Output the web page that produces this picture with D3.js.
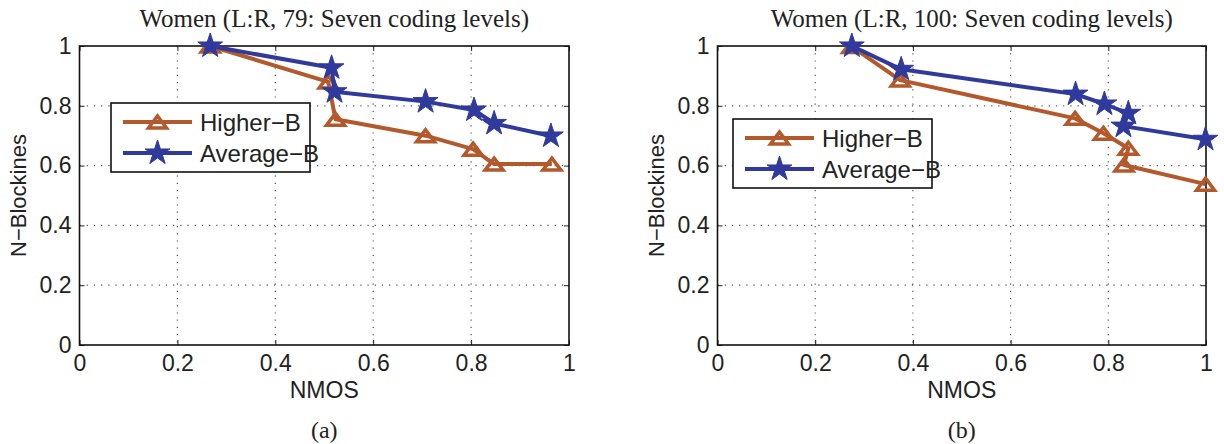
<!DOCTYPE html>
<html>
<head>
<meta charset="utf-8">
<script src="https://cdn.jsdelivr.net/npm/d3@7"></script>
<style>
  body { margin: 0; background: #fff; }
  svg { display: block; }
  .tick text { font-family: "Liberation Sans", Arial, sans-serif; font-size: 23px; fill: #222; }
</style>
</head>
<body>
<svg id="chart" width="1224" height="444"></svg>
<script>
// values
var xTicks = [0, 0.2, 0.4, 0.6, 0.8, 1]
var yTicks = [0, 0.2, 0.4, 0.6, 0.8, 1]
var tickLabels = ['0', '0.2', '0.4', '0.6', '0.8', '1']
var seriesNames = ['Higher\u2212B', 'Average\u2212B']

var higherA_x = [0.267, 0.508, 0.523, 0.707, 0.804, 0.847, 0.965]
var higherA_y = [1.0, 0.88, 0.755, 0.70, 0.655, 0.605, 0.605]
var averageA_x = [0.267, 0.515, 0.521, 0.707, 0.806, 0.847, 0.963]
var averageA_y = [1.0, 0.927, 0.847, 0.814, 0.786, 0.741, 0.699]

var higherB_x = [0.275, 0.374, 0.732, 0.790, 0.841, 0.832, 0.999]
var higherB_y = [0.998, 0.886, 0.758, 0.708, 0.658, 0.602, 0.538]
var averageB_x = [0.275, 0.376, 0.733, 0.792, 0.841, 0.831, 0.999]
var averageB_y = [1.0, 0.922, 0.839, 0.806, 0.775, 0.732, 0.688]

var colors = ['#b3592c', '#2f3a9c']

var panels = [
  { title: 'Women (L:R, 79: Seven coding levels)', caption: '(a)', left: 79.5, right: 569,
    series: [[higherA_x, higherA_y], [averageA_x, averageA_y]], legend: [111, 103] },
  { title: 'Women (L:R, 100: Seven coding levels)', caption: '(b)', left: 717.5, right: 1206,
    series: [[higherB_x, higherB_y], [averageB_x, averageB_y]], legend: [733, 119] }
]

var plotTop = 46, plotBottom = 345
var svg = d3.select('#chart')

function trianglePath(w, h) {
  var p = d3.path()
  p.moveTo(0, -h / 2)
  p.lineTo(w / 2, h / 2)
  p.lineTo(-w / 2, h / 2)
  p.closePath()
  return p.toString()
}
var star = d3.symbol().type(d3.symbolStar).size(190)()
var tri = trianglePath(18, 12)

function drawMarker(g, i, cx, cy) {
  if (i === 0) {
    g.append('path').attr('d', tri)
      .attr('transform', 'translate(' + cx + ',' + cy + ')')
      .attr('fill', 'none').attr('stroke', colors[0]).attr('stroke-width', 3.5)
      .attr('stroke-linejoin', 'miter')
  } else {
    g.append('path').attr('d', star)
      .attr('transform', 'translate(' + cx + ',' + cy + ')')
      .attr('fill', colors[1]).attr('stroke', colors[1]).attr('stroke-width', 1)
  }
}

panels.forEach(function(p) {
  var x = d3.scaleLinear().domain([0, 1]).range([p.left, p.right])
  var y = d3.scaleLinear().domain([0, 1]).range([plotBottom, plotTop])
  var g = svg.append('g')

  // dotted grid
  g.append('g').selectAll('line').data(xTicks.slice(1, -1)).enter().append('line')
    .attr('x1', function(d) { return x(d) }).attr('x2', function(d) { return x(d) })
    .attr('y1', plotTop).attr('y2', plotBottom)
    .attr('stroke', '#555').attr('stroke-width', 1.2).attr('stroke-dasharray', '1.2,6')
  g.append('g').selectAll('line').data(yTicks.slice(1, -1)).enter().append('line')
    .attr('y1', function(d) { return y(d) }).attr('y2', function(d) { return y(d) })
    .attr('x1', p.left).attr('x2', p.right)
    .attr('stroke', '#555').attr('stroke-width', 1.2).attr('stroke-dasharray', '1.2,6')

  var fmt = function(d, i) { return tickLabels[i] }
  var xAxis = g.append('g').attr('transform', 'translate(0,' + plotBottom + ')')
    .call(d3.axisBottom(x).tickValues(xTicks).tickFormat(fmt).tickSizeInner(-5).tickSizeOuter(0).tickPadding(9))
  g.append('g').attr('transform', 'translate(' + p.left + ',0)')
    .call(d3.axisLeft(y).tickValues(yTicks).tickFormat(fmt).tickSizeInner(-5).tickSizeOuter(0).tickPadding(8))
  g.append('g').attr('transform', 'translate(0,' + plotTop + ')')
    .call(d3.axisTop(x).tickValues(xTicks).tickFormat('').tickSizeInner(-5).tickSizeOuter(0))
  g.append('g').attr('transform', 'translate(' + p.right + ',0)')
    .call(d3.axisRight(y).tickValues(yTicks).tickFormat('').tickSizeInner(-5).tickSizeOuter(0))
  g.selectAll('.domain').remove()
  g.selectAll('.tick line').attr('stroke', '#222')
  xAxis.selectAll('text').attr('dy', '0.75em')

  g.append('rect').attr('x', p.left).attr('y', plotTop)
    .attr('width', p.right - p.left).attr('height', plotBottom - plotTop)
    .attr('fill', 'none').attr('stroke', '#111').attr('stroke-width', 1.6)

  // series
  var line = d3.line().x(function(d) { return x(d[0]) }).y(function(d) { return y(d[1]) })
  p.series.forEach(function(s, i) {
    var pts = s[0].map(function(v, k) { return [v, s[1][k]] })
    g.append('path').datum(pts).attr('d', line)
      .attr('fill', 'none').attr('stroke', colors[i]).attr('stroke-width', 4)
      .attr('stroke-linejoin', 'round')
    pts.forEach(function(d) { drawMarker(g, i, x(d[0]), y(d[1])) })
  })

  // legend
  var lx = p.legend[0], ly = p.legend[1]
  var lg = g.append('g').attr('transform', 'translate(' + lx + ',' + ly + ')')
  lg.append('rect').attr('width', 199).attr('height', 69)
    .attr('fill', '#fff').attr('stroke', '#111').attr('stroke-width', 1.6)
  seriesNames.forEach(function(name, i) {
    var ry = 19 + i * 31
    lg.append('line').attr('x1', 12).attr('x2', 81).attr('y1', ry).attr('y2', ry)
      .attr('stroke', colors[i]).attr('stroke-width', 4)
    drawMarker(lg, i, 46.5, ry)
    lg.append('text').attr('x', 89).attr('y', ry).attr('dy', '0.36em')
      .attr('font-family', 'Liberation Sans, Arial, sans-serif').attr('font-size', 24)
      .attr('fill', '#222').text(name)
  })

  // labels
  var cx = (p.left + p.right) / 2
  g.append('text').attr('x', cx + 10).attr('y', 27).attr('text-anchor', 'middle')
    .attr('font-family', 'Liberation Serif, Times New Roman, serif').attr('font-size', 25)
    .attr('fill', '#222').text(p.title)
  g.append('text').attr('x', cx).attr('y', 398).attr('text-anchor', 'middle')
    .attr('font-family', 'Liberation Sans, Arial, sans-serif').attr('font-size', 23)
    .attr('fill', '#222').text('NMOS')
  g.append('text').attr('x', cx).attr('y', 438).attr('text-anchor', 'middle')
    .attr('font-family', 'Liberation Serif, Times New Roman, serif').attr('font-size', 24)
    .attr('fill', '#222').text(p.caption)
  g.append('text').attr('transform', 'translate(' + (p.left - 54) + ',' + ((plotTop + plotBottom) / 2) + ') rotate(-90)')
    .attr('text-anchor', 'middle')
    .attr('font-family', 'Liberation Sans, Arial, sans-serif').attr('font-size', 22)
    .attr('fill', '#222').text('N\u2212Blockines')
})
</script>
</body>
</html>
